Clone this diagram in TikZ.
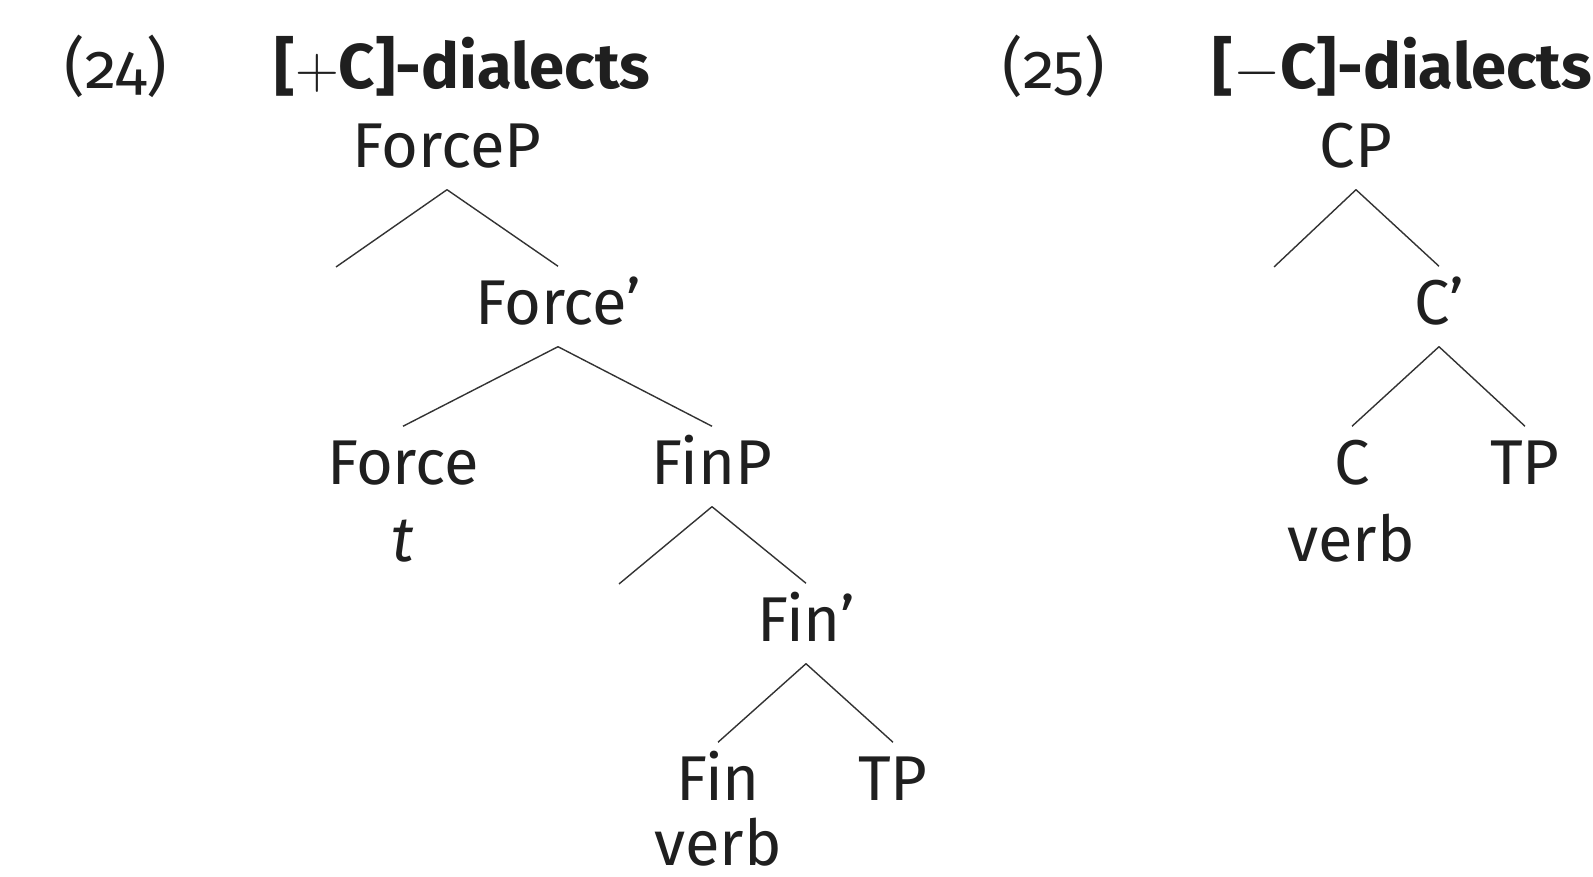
\documentclass[tikz,border=0pt]{standalone}
\usepackage{fontspec}
\setmainfont{Fira Sans}

\tikzset{
  cat/.style={anchor=base, inner xsep=0pt, inner ysep=0.13cm,
    text height=0.45cm, text depth=0.08cm, font=\fontsize{18}{20}\selectfont, text=black!88},
  leaf/.style={anchor=base, inner sep=0pt, font=\fontsize{18}{20}\selectfont, text=black!88},
  lbl/.style={anchor=base west, inner sep=0pt, font=\fontsize{18}{20}\selectfont, text=black!88},
  branch/.style={line width=0.4pt, draw=black!80}
}

\begin{document}
\begin{tikzpicture}[x=0.01cm, y=-0.01cm]
  \useasboundingbox (0,0) rectangle (1593,877);

  % left tree
  \node[lbl] at (64,89) (ex24) {\addfontfeature{Numbers=OldStyle}(24)};
  \node[lbl] at (274,89) (headA) {\bfseries [$+$C]-dialects};
  \node[cat] at (447,168) (forceP) {ForceP};
  \coordinate (specA) at (336,267);
  \node[cat] at (558,325) (forceBar) {Force’};
  \node[cat] at (403,485) (force) {Force};
  \node[leaf] at (403,562) (forceT) {\itshape t};
  \node[cat] at (712,485) (finP) {FinP};
  \coordinate (specB) at (619,584);
  \node[cat] at (806,642) (finBar) {Fin’};
  \node[cat] at (718,801) (fin) {Fin};
  \node[cat] at (893,801) (tpA) {TP};
  \node[leaf] at (718,866) (verbA) {verb};

  \draw[branch] (forceP.south) -- (specA);
  \draw[branch] (forceP.south) -- (forceBar.north);
  \draw[branch] (forceBar.south) -- (force.north);
  \draw[branch] (forceBar.south) -- (finP.north);
  \draw[branch] (finP.south) -- (specB);
  \draw[branch] (finP.south) -- (finBar.north);
  \draw[branch] (finBar.south) -- (fin.north);
  \draw[branch] (finBar.south) -- (tpA.north);

  % right tree
  \node[lbl] at (1002,89) (ex25) {\addfontfeature{Numbers=OldStyle}(25)};
  \node[lbl] at (1212,89) (headB) {\bfseries [$-$C]-dialects};
  \node[cat] at (1356,168) (cP) {CP};
  \coordinate (specC) at (1274,267);
  \node[cat] at (1439,325) (cBar) {C’};
  \node[cat] at (1352,485) (c) {C};
  \node[cat] at (1525,485) (tpB) {TP};
  \node[leaf] at (1351,562) (verbB) {verb};

  \draw[branch] (cP.south) -- (specC);
  \draw[branch] (cP.south) -- (cBar.north);
  \draw[branch] (cBar.south) -- (c.north);
  \draw[branch] (cBar.south) -- (tpB.north);
\end{tikzpicture}
\end{document}
